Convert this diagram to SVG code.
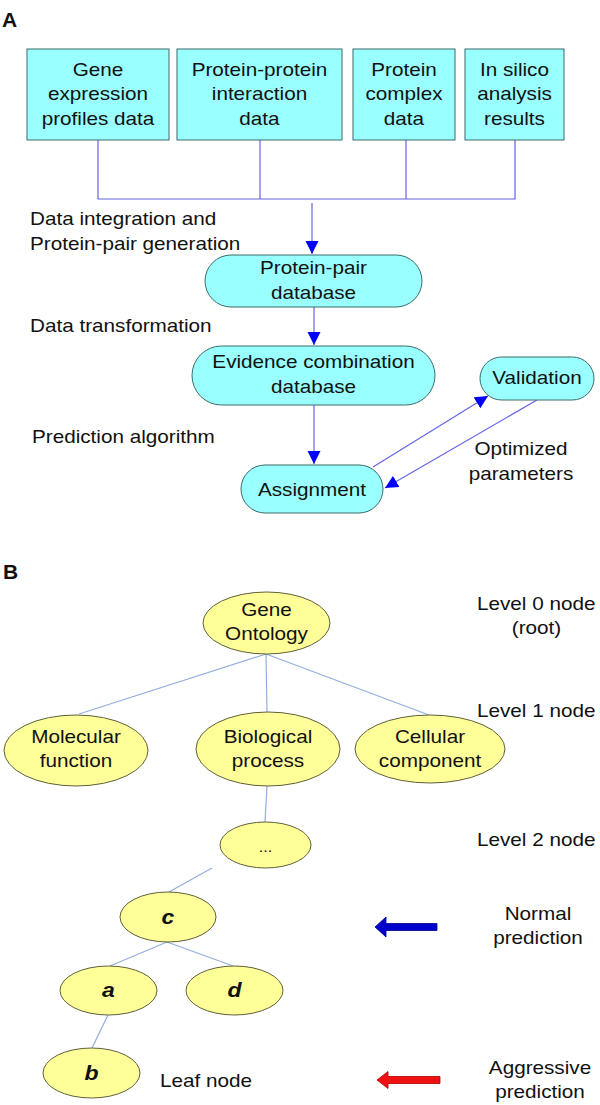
<svg xmlns="http://www.w3.org/2000/svg" width="600" height="1105" viewBox="0 0 600 1105">
<style>
text{font-family:"Liberation Sans",Arial,sans-serif;font-size:18px;fill:#111}
.s{transform:scale(1.15,1)}
.m{text-anchor:middle}
.lbl{font-weight:bold;font-size:21px}
.box{fill:#99FFFF;stroke:#3d6b6b;stroke-width:1}
.ell{fill:#FFFF99;stroke:#5f5f3a;stroke-width:1}
.con{stroke:#6464E6;stroke-width:1.2;fill:none}
.tree{stroke:#93AEDC;stroke-width:1.2;fill:none}
.it{font-style:italic;font-weight:bold;font-size:20px}
</style>
<defs>
<marker id="ah" markerUnits="userSpaceOnUse" markerWidth="14" markerHeight="14" refX="13" refY="7" orient="auto">
<path d="M0,0.5 L13,7 L0,13.5 z" fill="#0000FF"/>
</marker>
</defs>
<rect width="600" height="1105" fill="#fff"/>
<text class="lbl" x="2" y="27">A</text>
<text class="lbl" x="3" y="579">B</text>

<g id="connectors">
<path class="con" d="M98,140 V199 H515 V140 M260,140 V199 M406,140 V199"/>
<path class="con" d="M312,203 V254" marker-end="url(#ah)"/>
<path class="con" d="M314,307 V345" marker-end="url(#ah)"/>
<path class="con" d="M314,405 V464" marker-end="url(#ah)"/>
<path class="con" d="M373,467 L488,396" marker-end="url(#ah)"/>
<path class="con" d="M537,400 L385,488" marker-end="url(#ah)"/>
<path class="tree" d="M266,654 L79,714 M266,654 L267,712 M266,654 L429,715 M267,786 L265,822 M212,868 L169,892 M167,942 L110,966 M167,942 L233,966 M108,1015 L92,1048"/>
</g>

<g id="gene-expr"><rect class="box" x="27" y="49" width="142" height="91"/>
<text class="s m" x="85.22" y="76">Gene</text><text class="s m" x="85.22" y="100.5">expression</text><text class="s m" x="85.22" y="125">profiles data</text></g>
<g id="ppi"><rect class="box" x="177" y="49" width="165" height="91"/>
<text class="s m" x="225.65" y="76">Protein-protein</text><text class="s m" x="225.65" y="100.5">interaction</text><text class="s m" x="225.65" y="125">data</text></g>
<g id="complex"><rect class="box" x="353" y="49" width="102" height="91"/>
<text class="s m" x="351.30" y="76">Protein</text><text class="s m" x="351.30" y="100.5">complex</text><text class="s m" x="351.30" y="125">data</text></g>
<g id="silico"><rect class="box" x="465" y="49" width="99" height="91"/>
<text class="s m" x="447.39" y="76">In silico</text><text class="s m" x="447.39" y="100.5">analysis</text><text class="s m" x="447.39" y="125">results</text></g>

<text class="s" x="26.09" y="225">Data integration and</text>
<text class="s" x="26.09" y="250">Protein-pair generation</text>
<text class="s" x="26.09" y="332">Data transformation</text>
<text class="s" x="27.83" y="443">Prediction algorithm</text>

<g id="ppdb"><rect class="box" x="205" y="255" width="217" height="52" rx="26" ry="26"/>
<text class="s m" x="272.61" y="274.5">Protein-pair</text><text class="s m" x="272.61" y="299">database</text></g>
<g id="evdb"><rect class="box" x="192" y="346" width="243" height="59" rx="29.5" ry="29.5"/>
<text class="s m" x="272.61" y="368">Evidence combination</text><text class="s m" x="272.61" y="393">database</text></g>
<g id="validation"><rect class="box" x="480" y="357" width="114" height="43" rx="21.5" ry="21.5"/>
<text class="s m" x="466.96" y="384">Validation</text></g>
<g id="assignment"><rect class="box" x="241" y="465" width="142" height="48" rx="24" ry="24"/>
<text class="s m" x="271.30" y="496">Assignment</text></g>
<text class="s m" x="453.04" y="455">Optimized</text>
<text class="s m" x="453.04" y="480">parameters</text>

<g id="go"><ellipse class="ell" cx="266.5" cy="623" rx="63.5" ry="31"/>
<text class="s m" x="231.74" y="616">Gene</text><text class="s m" x="231.74" y="640">Ontology</text></g>
<g id="mf"><ellipse class="ell" cx="76" cy="750.5" rx="72" ry="35.5"/>
<text class="s m" x="66.09" y="743">Molecular</text><text class="s m" x="66.09" y="767">function</text></g>
<g id="bp"><ellipse class="ell" cx="268" cy="749" rx="72" ry="37"/>
<text class="s m" x="233.04" y="743">Biological</text><text class="s m" x="233.04" y="767">process</text></g>
<g id="cc"><ellipse class="ell" cx="430" cy="749" rx="75" ry="34"/>
<text class="s m" x="373.91" y="743">Cellular</text><text class="s m" x="373.91" y="767">component</text></g>
<g id="dots"><ellipse class="ell" cx="265.5" cy="845" rx="45.5" ry="23"/>
<text class="s m" x="230.87" y="852" style="font-size:14px">...</text></g>
<g id="c"><ellipse class="ell" cx="168" cy="917" rx="48" ry="25"/>
<text class="s m it" x="146.09" y="924">c</text></g>
<g id="a"><ellipse class="ell" cx="108.5" cy="990.5" rx="48.5" ry="24.5"/>
<text class="s m it" x="94.35" y="997">a</text></g>
<g id="d"><ellipse class="ell" cx="234.5" cy="990.5" rx="48.5" ry="24.5"/>
<text class="s m it" x="203.91" y="997">d</text></g>
<g id="b"><ellipse class="ell" cx="91.5" cy="1073" rx="48.5" ry="25"/>
<text class="s m it" x="79.57" y="1080">b</text></g>

<text class="s" x="414.78" y="610">Level 0 node</text>
<text class="s m" x="466.52" y="634">(root)</text>
<text class="s" x="414.78" y="717">Level 1 node</text>
<text class="s" x="414.78" y="846">Level 2 node</text>
<text class="s m" x="467.83" y="920">Normal</text>
<text class="s m" x="467.83" y="944">prediction</text>
<text class="s" x="139.13" y="1087">Leaf node</text>
<text class="s m" x="469.57" y="1074">Aggressive</text>
<text class="s m" x="469.57" y="1098">prediction</text>

<path d="M375,927 L386,917 L386,923.5 L437,923.5 L437,930.5 L386,930.5 L386,937 z" fill="#0000CC" stroke="#00008a" stroke-width="0.8"/>
<path d="M377,1080 L388,1071.5 L388,1076.5 L440,1076.5 L440,1083.5 L388,1083.5 L388,1088.5 z" fill="#EE1111" stroke="#b00000" stroke-width="0.8"/>
</svg>
